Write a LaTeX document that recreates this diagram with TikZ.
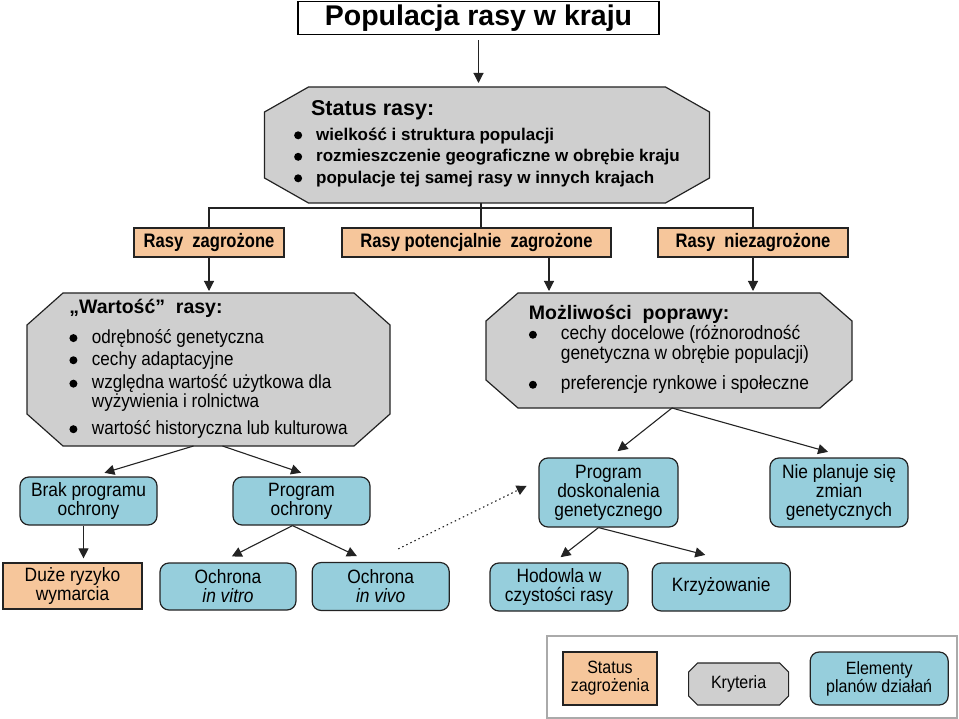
\documentclass[tikz,border=0pt]{standalone}
\usepackage{fontspec}
\setmainfont{Liberation Sans}
\newfontfamily\narrow[FakeStretch=0.9]{Liberation Sans}
\newfontfamily\narrowbold[FakeStretch=0.85]{Liberation Sans}
\usepackage{xcolor}
\usepackage{tikz}
\usetikzlibrary{positioning,arrows.meta,backgrounds}

\definecolor{orangefill}{RGB}{246,198,155}
\definecolor{bluefill}{RGB}{150,206,220}
\definecolor{greyfill}{RGB}{207,207,207}
\definecolor{edgedark}{RGB}{35,35,35}
\definecolor{framegrey}{RGB}{170,170,170}

% bullet dot for the criteria lists
\newcommand{\dotmark}{\tikz[baseline=-5pt]\fill (0,0) circle (4pt);}
% octagon outline round a named node: node, cut x, cut y
\newcommand{\octo}[3]{%
  \filldraw[critline] ([xshift=#2]#1.north west) -- ([xshift=-#2]#1.north east)
    -- ([yshift=-#3]#1.north east) -- ([yshift=#3]#1.south east)
    -- ([xshift=-#2]#1.south east) -- ([xshift=#2]#1.south west)
    -- ([yshift=#3]#1.south west) -- ([yshift=-#3]#1.north west) -- cycle;}

\begin{document}
\begin{tikzpicture}[x=1pt, y=-1pt,
  line/.style={line width=1.1pt, draw=edgedark},
  arr/.style={line, -{Triangle[length=10pt,width=10pt]}, shorten >=2pt},
  critline/.style={fill=greyfill, draw=edgedark, line width=1.2pt},
  crit/.style={rectangle, inner sep=0pt, outer sep=0pt, align=left},
  statusbox/.style={rectangle, draw=edgedark, fill=orangefill, line width=1.2pt, inner sep=0pt, align=center, font=\narrowbold\bfseries\fontsize{19.5}{20}\selectfont},
  planbox/.style={rectangle, rounded corners=9pt, draw=edgedark, fill=bluefill, line width=1.2pt, inner sep=0pt, align=center, font=\narrow\fontsize{19.3}{19}\selectfont}]
	\useasboundingbox (0,0) rectangle (959,719);
	
	\node[draw, rectangle, line width=1.2pt, minimum width=361pt, minimum height=33pt, font=\bfseries\fontsize{28.5}{30}\selectfont] (title) at (478.5,18) {Populacja rasy w kraju};
	
	\node[crit, minimum width=445pt, minimum height=116pt, font=\bfseries\fontsize{17}{21.5}\selectfont] (status) at (487,145) {%
		\begin{tabular}{@{}c@{\hspace{14pt}}l@{}}
			\multicolumn{2}{@{}l@{}}{\hspace{17pt}\fontsize{21.5}{24}\selectfont Status rasy:}\\[3.5pt]
			\dotmark & wielkość i struktura populacji\\
			\dotmark & rozmieszczenie geograficzne w obrębie kraju\\
			\dotmark & populacje tej samej rasy w innych krajach
		\end{tabular}};
	
	\node[statusbox, minimum width=150pt, minimum height=29pt] (rz) at (209,242.5) {Rasy\ \ zagrożone};
	\node[statusbox, minimum width=269pt, minimum height=29pt] (rpz) at (476.5,242.5) {Rasy potencjalnie\ \ zagrożone};
	\node[statusbox, minimum width=190pt, minimum height=29pt] (rnz) at (753,242.5) {Rasy\ \ niezagrożone};
	
	\node[crit, minimum width=363pt, minimum height=153pt, font=\narrow\fontsize{19}{18}\selectfont] (wart) at (208.5,369.5) {%
		\begin{tabular}{@{}c@{\hspace{14.5pt}}l@{}}
			\multicolumn{2}{@{}l@{}}{\normalfont\bfseries\fontsize{19.5}{22}\selectfont „Wartość”\ \ rasy:}\\[10pt]
			\dotmark & odrębność genetyczna\\[3pt]
			\dotmark & cechy adaptacyjne\\[4pt]
			\dotmark & względna wartość użytkowa dla\\
			& wyżywienia i rolnictwa\\[7pt]
			\dotmark & wartość historyczna lub kulturowa
		\end{tabular}};
	
	\node[crit, minimum width=366pt, minimum height=115pt, font=\narrow\fontsize{19.3}{20}\selectfont] (mozl) at (669,350.5) {%
		\begin{tabular}{@{}c@{\hspace{24pt}}l@{}}
			\multicolumn{2}{@{}l@{}}{\normalfont\bfseries\fontsize{19.5}{22}\selectfont Możliwości\ \ poprawy:}\\
			\dotmark & cechy docelowe (różnorodność\\
			& genetyczna w obrębie populacji)\\[10pt]
			\dotmark & preferencje rynkowe i społeczne
		\end{tabular}};
	
	\node[planbox, minimum width=137pt, minimum height=48pt] (brak) at (88.5,501) {Brak programu\\ochrony};
	\node[planbox, minimum width=137pt, minimum height=48pt] (progo) at (301.5,501) {Program\\ochrony};
	\node[statusbox, font=\narrow\fontsize{19.3}{19}\selectfont, minimum width=139pt, minimum height=46pt] (duze) at (72.5,586) {Duże ryzyko\\wymarcia};
	\node[planbox, minimum width=136pt, minimum height=47pt] (vitro) at (228,586.5) {Ochrona\\\textit{in vitro}};
	\node[planbox, minimum width=137pt, minimum height=48pt, right=15pt of vitro] (vivo) {Ochrona\\\textit{in vivo}};
	
	\node[planbox, minimum width=139pt, minimum height=69pt] (progd) at (608.5,492.5) {Program\\doskonalenia\\genetycznego};
	\node[planbox, minimum width=138pt, minimum height=69pt] (nie) at (839,492.5) {Nie planuje się\\zmian\\genetycznych};
	\node[planbox, minimum width=138pt, minimum height=48pt] (hod) at (559,587) {Hodowla w\\czystości rasy};
	\node[planbox, minimum width=138pt, minimum height=48pt, right=23pt of hod] (krz) {Krzyżowanie};
	
	% legend
	\node[draw=framegrey, line width=1.2pt, rectangle, minimum width=410pt, minimum height=82pt] (legend) at (752,677) {};
	\node[statusbox, font=\narrow\fontsize{17.8}{18}\selectfont, minimum width=94pt, minimum height=53pt] (lstat) at (610,678.5) {Status\\zagrożenia};
	\node[crit, align=center, minimum width=100pt, minimum height=42pt, font=\narrow\fontsize{17.8}{18}\selectfont, right=31pt of lstat, yshift=-5.5pt] (lcrit) {Kryteria};
	\node[planbox, font=\narrow\fontsize{17.8}{18}\selectfont, minimum width=138pt, minimum height=53pt, right=21pt of lcrit, yshift=5.5pt] (lplan) {Elementy\\planów działań};
	
	\begin{scope}[on background layer]
		\octo{status}{44pt}{25pt}
		\octo{wart}{36pt}{32pt}
		\octo{mozl}{32pt}{28pt}
		\octo{lcrit}{9pt}{9pt}
	\end{scope}
	
	\coordinate (bus) at (481,208);
	\draw[arr, shorten <=5pt, shorten >=4pt] (title.south) -- (title.south |- status.north);
	\draw[line] (status.south -| bus) -- (rpz.north -| bus);
	\draw[line] (rz.north) |- (bus) -| (rnz.north);
	\draw[arr] (rz.south) -- (rz.south |- wart.north);
	\draw[arr] ([xshift=72.5pt]rpz.south) -- ([xshift=72.5pt]rpz.south |- mozl.north);
	\draw[arr] (rnz.south) -- (rnz.south |- mozl.north);
	
	\draw[arr] ([xshift=-15pt]wart.south) -- ([xshift=14pt,yshift=3pt]brak.north);
	\draw[arr] ([xshift=14pt]wart.south) -- ([xshift=1.5pt,yshift=3pt]progo.north);
	\draw[arr, shorten >=4pt] ([xshift=-5pt]brak.south) -- ([xshift=-5pt]brak.south |- duze.north);
	\draw[arr] ([xshift=-9pt]progo.south) -- ([xshift=2pt,yshift=5pt]vitro.north);
	\draw[arr] ([xshift=-9pt]progo.south) -- ([xshift=-22pt,yshift=5pt]vivo.north);
	\draw[arr, dash pattern=on 1.5pt off 3pt] ([xshift=17.5pt,yshift=13pt]vivo.north) -- ([xshift=-10pt,yshift=7.5pt]progd.west);
	
	\draw[arr] ([xshift=3pt]mozl.south) -- ([xshift=7.5pt,yshift=5pt]progd.north);
	\draw[arr] ([xshift=3pt]mozl.south) -- ([xshift=-9pt,yshift=5pt]nie.north);
	\draw[arr] ([xshift=-10pt]progd.south) -- ([yshift=4pt]hod.north);
	\draw[arr] ([xshift=-10pt]progd.south) -- ([xshift=-14pt,yshift=7pt]krz.north);
\end{tikzpicture}
\end{document}
